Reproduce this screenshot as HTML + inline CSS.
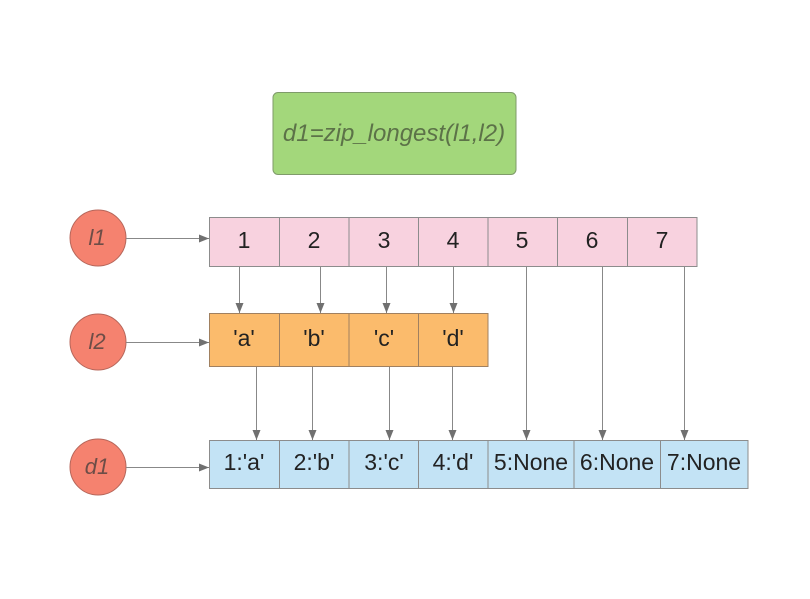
<!DOCTYPE html>
<html><head><meta charset="utf-8"><style>
html,body{margin:0;padding:0;background:#fff;}
svg{display:block;}
text{font-family:"Liberation Sans",Arial,sans-serif;}
</style></head><body>
<svg width="810" height="599" viewBox="0 0 810 599" xmlns="http://www.w3.org/2000/svg">
<defs>
<marker id="ah" viewBox="0 0 10 8" refX="10" refY="4" markerWidth="10" markerHeight="8" markerUnits="userSpaceOnUse" orient="auto">
<path d="M0,0 L10,4 L0,8 z" fill="#707070"/>
</marker>
</defs>
<!-- green box -->
<rect x="273" y="92.5" width="243" height="82" rx="5" fill="#a3d77b" stroke="#7f9b6a" stroke-width="1"/>
<text x="394" y="141" font-size="24" font-style="italic" fill="#5c7248" text-anchor="middle">d1=zip_longest(l1,l2)</text>

<!-- circles -->
<g fill="#f5826f" stroke="#b6665a" stroke-width="1">
<circle cx="98" cy="238" r="28"/>
<circle cx="98" cy="342" r="28"/>
<circle cx="98" cy="467" r="28"/>
</g>
<g font-size="22" font-style="italic" fill="#6d4d47" text-anchor="middle">
<text x="97" y="245">l1</text>
<text x="97" y="349">l2</text>
<text x="97" y="474">d1</text>
</g>

<!-- horizontal arrows -->
<g stroke="#888" stroke-width="1" fill="none">
<line x1="126" y1="238.5" x2="209" y2="238.5" marker-end="url(#ah)"/>
<line x1="126" y1="342.5" x2="209" y2="342.5" marker-end="url(#ah)"/>
<line x1="126" y1="467.5" x2="209" y2="467.5" marker-end="url(#ah)"/>
</g>

<!-- pink row -->
<g fill="#f8d2df" stroke="#8c8c8c" stroke-width="1">
<rect x="209.5" y="217.5" width="70" height="49"/>
<rect x="279.5" y="217.5" width="69.5" height="49"/>
<rect x="349" y="217.5" width="69.5" height="49"/>
<rect x="418.5" y="217.5" width="69.5" height="49"/>
<rect x="488" y="217.5" width="69.5" height="49"/>
<rect x="557.5" y="217.5" width="70" height="49"/>
<rect x="627.5" y="217.5" width="69.5" height="49"/>
</g>
<g font-size="23" fill="#222" text-anchor="middle">
<text x="244" y="248">1</text>
<text x="314" y="248">2</text>
<text x="384" y="248">3</text>
<text x="453" y="248">4</text>
<text x="522" y="248">5</text>
<text x="592" y="248">6</text>
<text x="662" y="248">7</text>
</g>

<!-- orange row -->
<g fill="#fbbb6c" stroke="#a08060" stroke-width="1">
<rect x="209.5" y="313.5" width="70" height="53"/>
<rect x="279.5" y="313.5" width="69.5" height="53"/>
<rect x="349" y="313.5" width="69.5" height="53"/>
<rect x="418.5" y="313.5" width="69.5" height="53"/>
</g>
<g font-size="23" fill="#222" text-anchor="middle">
<text x="244" y="346">'a'</text>
<text x="314" y="346">'b'</text>
<text x="384" y="346">'c'</text>
<text x="453" y="346">'d'</text>
</g>

<!-- blue row -->
<g fill="#c3e3f5" stroke="#8c8c8c" stroke-width="1">
<rect x="209.5" y="440.5" width="70" height="48"/>
<rect x="279.5" y="440.5" width="69.5" height="48"/>
<rect x="349" y="440.5" width="69.5" height="48"/>
<rect x="418.5" y="440.5" width="69.5" height="48"/>
<rect x="488" y="440.5" width="86" height="48"/>
<rect x="574" y="440.5" width="86.5" height="48"/>
<rect x="660.5" y="440.5" width="87.5" height="48"/>
</g>
<g font-size="23" fill="#222" text-anchor="middle">
<text x="244" y="470">1:'a'</text>
<text x="314" y="470">2:'b'</text>
<text x="384" y="470">3:'c'</text>
<text x="453" y="470">4:'d'</text>
<text x="531" y="470">5:None</text>
<text x="617" y="470">6:None</text>
<text x="704" y="470">7:None</text>
</g>

<!-- vertical arrows -->
<g stroke="#888" stroke-width="1" fill="none">
<line x1="239.5" y1="267" x2="239.5" y2="313" marker-end="url(#ah)"/>
<line x1="320.5" y1="267" x2="320.5" y2="313" marker-end="url(#ah)"/>
<line x1="386.5" y1="267" x2="386.5" y2="313" marker-end="url(#ah)"/>
<line x1="453.5" y1="267" x2="453.5" y2="313" marker-end="url(#ah)"/>
<line x1="256.5" y1="367" x2="256.5" y2="440" marker-end="url(#ah)"/>
<line x1="312.5" y1="367" x2="312.5" y2="440" marker-end="url(#ah)"/>
<line x1="389.5" y1="367" x2="389.5" y2="440" marker-end="url(#ah)"/>
<line x1="452.5" y1="367" x2="452.5" y2="440" marker-end="url(#ah)"/>
<line x1="526.5" y1="267" x2="526.5" y2="440" marker-end="url(#ah)"/>
<line x1="602.5" y1="267" x2="602.5" y2="440" marker-end="url(#ah)"/>
<line x1="684.5" y1="267" x2="684.5" y2="440" marker-end="url(#ah)"/>
</g>
</svg>
</body></html>
